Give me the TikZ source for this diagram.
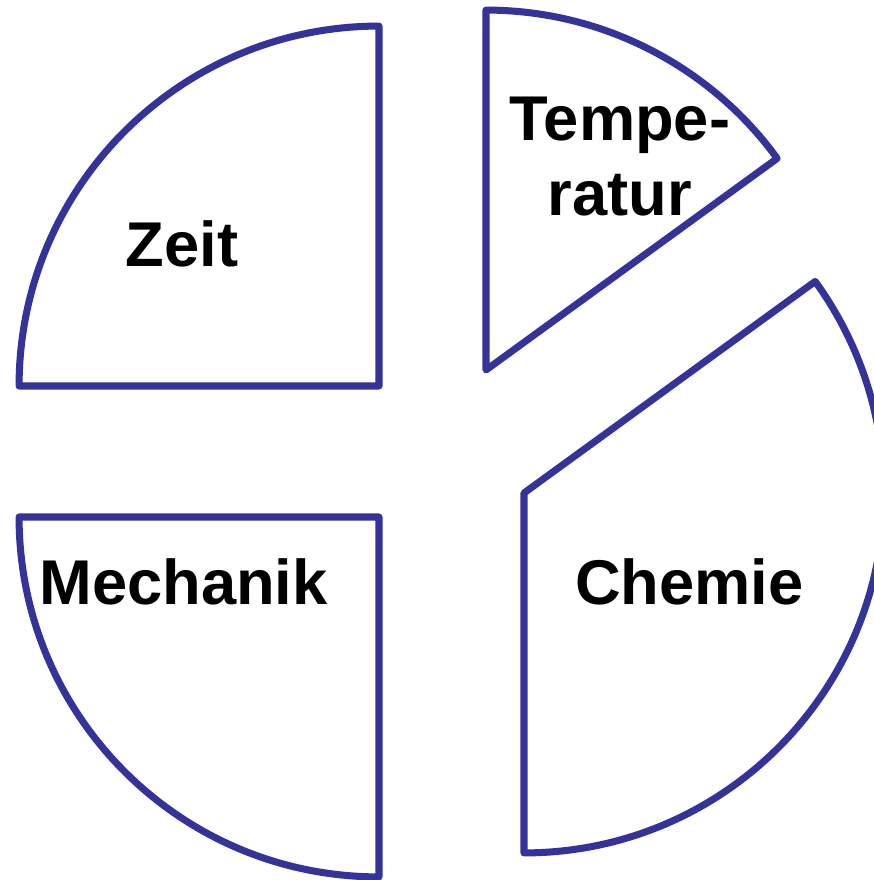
\documentclass[tikz,border=0pt]{standalone}
\usepackage{fontspec}
\setmainfont{Liberation Sans}
\usepackage{tikz}
\usetikzlibrary{positioning}
\definecolor{pieblue}{RGB}{51,51,153}

\begin{document}
\begin{tikzpicture}[x=0.02cm, y=0.02cm,
	slice/.style={draw=pieblue, line width=4pt, line join=round},
	every node/.style={font=\fontsize{36}{43}\selectfont\bfseries, inner sep=0pt}
	]
	\useasboundingbox (0,0) rectangle (874,880);
	\clip (0,0) rectangle (874,880);

	% slice tips
	\coordinate (zeit) at (379,494);
	\coordinate (mech) at (379,363);
	\coordinate (temp) at (486,510);
	\coordinate (chem) at (524,387);

	\draw[slice] (zeit) -- ++(180:7.2cm) arc[start angle=180, end angle=90, radius=7.2cm] -- cycle;
	\draw[slice] (mech) -- ++(180:7.2cm) arc[start angle=180, end angle=270, radius=7.2cm] -- cycle;
	\draw[slice] (temp) -- ++(36:7.2cm) arc[start angle=36, end angle=90, radius=7.2cm] -- cycle;
	\draw[slice] (chem) -- ++(-90:7.2cm) arc[start angle=-90, end angle=36, radius=7.2cm] -- cycle;

	% labels
	\node[anchor=base] (zeitlabel) at (182,613) {Zeit};
	\node[anchor=base] (mechlabel) at (183.5,275) {Mechanik};
	\node[anchor=base] (chemlabel) at (689.5,275) {Chemie};
	\node[align=center] (templabel) at (620,723.5) {Tempe-\\ratur};
\end{tikzpicture}
\end{document}
